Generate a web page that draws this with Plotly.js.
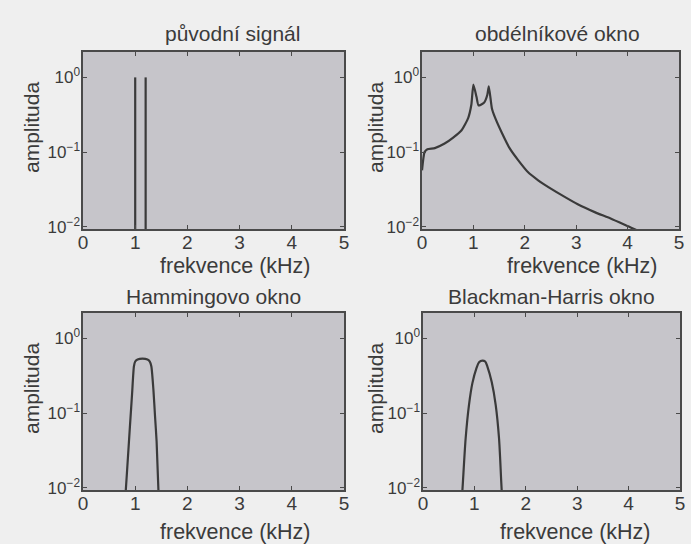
<!DOCTYPE html>
<html>
<head>
<meta charset="utf-8">
<script src="https://cdn.plot.ly/plotly-3.0.1.min.js"></script>
<style>html,body{margin:0;padding:0;background:#efefef;}#chart{width:691px;height:544px;}</style>
</head>
<body>
<div id="chart"></div>
<script>
// ---- data ----
const panelTitles = ['původní signál', 'obdélníkové okno', 'Hammingovo okno', 'Blackman-Harris okno'];
const xLabel = 'frekvence (kHz)';
const yLabel = 'amplituda';
const xTickVals = [0, 1, 2, 3, 4, 5];
const yTickVals = [0.01, 0.1, 1];
const yTickText = ['10<sup>−2</sup>', '10<sup>−1</sup>', '10<sup>0</sup>'];

// original signal: two spectral lines
const spikeFreq = [1.0, 1.2];
const spikeAmp = [1.0, 1.0];
const spikeFloor = 0.001;

// rectangular window spectrum
const freqRect = [0, 0.05, 0.105, 0.25, 0.44, 0.60, 0.77, 0.90, 0.96, 1.0, 1.06, 1.10, 1.21, 1.27, 1.30, 1.36, 1.416, 1.546, 1.71, 1.87, 2.06, 2.26, 2.39, 2.71, 3.03, 3.36, 3.68, 4.07, 4.5, 5.0];
const ampRect  = [0.057, 0.1, 0.109, 0.113, 0.13, 0.155, 0.196, 0.288, 0.43, 0.80, 0.55, 0.42, 0.46, 0.58, 0.76, 0.384, 0.296, 0.186, 0.111, 0.078, 0.054, 0.0419, 0.0364, 0.0267, 0.020, 0.0157, 0.0128, 0.0097, 0.0072, 0.0051];

// Hamming window spectrum
const freqHam = [0.78, 0.82, 0.86, 0.90, 0.94, 0.975, 1.0, 1.044, 1.14, 1.236, 1.28, 1.31, 1.35, 1.38, 1.41, 1.445, 1.48];
const ampHam  = [0.004, 0.0093, 0.025, 0.068, 0.18, 0.42, 0.49, 0.52, 0.535, 0.52, 0.49, 0.42, 0.2, 0.09, 0.042, 0.0093, 0.004];

// Blackman-Harris window spectrum
const freqBH = [0.73, 0.767, 0.83, 0.895, 0.96, 1.04, 1.09, 1.156, 1.21, 1.253, 1.337, 1.414, 1.479, 1.531, 1.57];
const ampBH  = [0.004, 0.0093, 0.046, 0.129, 0.25, 0.40, 0.48, 0.505, 0.49, 0.42, 0.26, 0.129, 0.046, 0.0093, 0.004];

// ---- styling ----
const W = 691, H = 544;
const FONT = 'Liberation Sans, Arial, sans-serif';
const TXT = '#3b3b3b';
const LINE = '#3a3a3a';
const FRAME = '#4a4a4a';
const PLOTBG = '#c6c5ca';

const px = v => v / W;
const py = v => 1 - v / H;

const boxes = [
  {x0: 83, x1: 344, y0: 52, y1: 229},
  {x0: 422, x1: 679, y0: 52, y1: 229},
  {x0: 83, x1: 344, y0: 313, y1: 490},
  {x0: 423, x1: 680, y0: 313, y1: 490}
];
const titlePos = [[232, 33], [557, 33], [213, 296], [551, 296]];
const xLabPos = [[236, 266], [582, 266], [236, 532], [575, 532]];
const yLabPos = [[31, 128], [375, 128], [31, 389], [375, 389]];

const traces = [];
const lineStyle = {color: LINE, width: 2.2};
spikeFreq.forEach((f, i) => {
  traces.push({x: [f, f], y: [spikeFloor, spikeAmp[i]], mode: 'lines', line: lineStyle, xaxis: 'x', yaxis: 'y', hoverinfo: 'skip'});
});
traces.push({x: freqRect, y: ampRect, mode: 'lines', line: Object.assign({shape: 'spline', smoothing: 0.5}, lineStyle), xaxis: 'x2', yaxis: 'y2'});
traces.push({x: freqHam, y: ampHam, mode: 'lines', line: Object.assign({shape: 'spline', smoothing: 0.6}, lineStyle), xaxis: 'x3', yaxis: 'y3'});
traces.push({x: freqBH, y: ampBH, mode: 'lines', line: Object.assign({shape: 'spline', smoothing: 0.8}, lineStyle), xaxis: 'x4', yaxis: 'y4'});

const layout = {
  width: W, height: H,
  margin: {l: 0, r: 0, t: 0, b: 0},
  paper_bgcolor: '#efefef',
  plot_bgcolor: PLOTBG,
  showlegend: false,
  font: {family: FONT, color: TXT, size: 18},
  annotations: []
};

boxes.forEach((b, i) => {
  const s = i === 0 ? '' : String(i + 1);
  layout['xaxis' + s] = {
    domain: [px(b.x0), px(b.x1)], anchor: 'y' + s, range: [0, 5],
    tickvals: xTickVals, ticks: 'inside', ticklen: 4, tickcolor: FRAME, tickwidth: 1,
    mirror: 'ticks', showline: true, linecolor: FRAME, linewidth: 1.6,
    showgrid: false, zeroline: false, ticklabelstandoff: -4,
    tickfont: {family: FONT, size: 19, color: TXT}
  };
  layout['yaxis' + s] = {
    domain: [py(b.y1), py(b.y0)], anchor: 'x' + s, type: 'log', range: [-2.03, 0.34],
    tickvals: yTickVals, ticktext: yTickText, ticks: 'inside', ticklen: 4, tickcolor: FRAME, tickwidth: 1,
    mirror: 'ticks', showline: true, linecolor: FRAME, linewidth: 1.6,
    showgrid: false, zeroline: false, ticklabelstandoff: -2,
    tickfont: {family: FONT, size: 17, color: TXT}
  };
  layout.annotations.push({text: panelTitles[i], xref: 'paper', yref: 'paper', x: px(titlePos[i][0]), y: py(titlePos[i][1]), xanchor: 'center', yanchor: 'middle', showarrow: false, font: {family: FONT, size: 21, color: TXT}});
  layout.annotations.push({text: xLabel, xref: 'paper', yref: 'paper', x: px(xLabPos[i][0]), y: py(xLabPos[i][1]), xanchor: 'center', yanchor: 'middle', showarrow: false, font: {family: FONT, size: 21.5, color: TXT}});
  layout.annotations.push({text: yLabel, xref: 'paper', yref: 'paper', x: px(yLabPos[i][0]), y: py(yLabPos[i][1]), xanchor: 'center', yanchor: 'middle', textangle: -90, showarrow: false, font: {family: FONT, size: 21, color: TXT}});
});

Plotly.newPlot('chart', traces, layout, {displayModeBar: false, staticPlot: true});
</script>
</body>
</html>
